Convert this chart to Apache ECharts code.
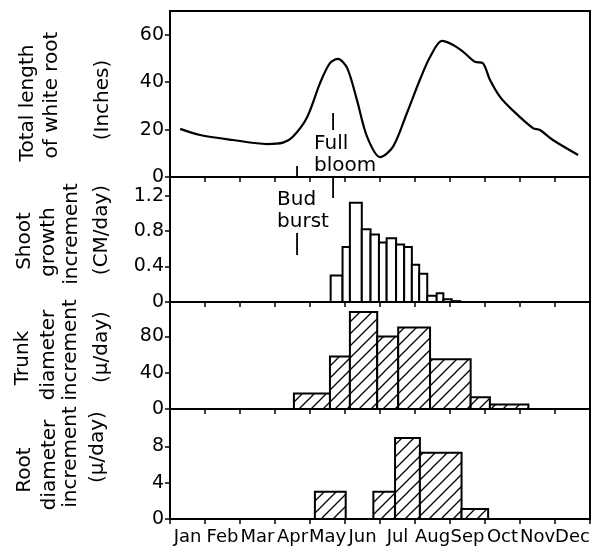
<!DOCTYPE html>
<html>
<head>
<meta charset="utf-8">
<script src="https://cdn.jsdelivr.net/npm/echarts@6/dist/echarts.min.js"></script>
<style>html,body{margin:0;padding:0;background:#fff;}#c{width:598px;height:551px;}</style>
</head>
<body>
<div id="c"></div>
<script>
// ---- data ----
const months = ['Jan','Feb','Mar','Apr','May','Jun','Jul','Aug','Sep','Oct','Nov','Dec'];

// Total length of white root (inches); x in months from Jan 1
const rootLenX = [0.29, 0.86, 1.8, 2.77, 3.23, 3.51, 3.91, 4.29, 4.57, 4.8, 5.06, 5.34, 5.63, 6.0, 6.37, 6.77, 7.14, 7.43, 7.77, 8.09, 8.37, 8.71, 8.94, 9.14, 9.43, 9.8, 10.37, 10.57, 10.94, 11.66];
const rootLenY = [20.3, 17.7, 15.6, 13.9, 14.5, 17, 25, 39.7, 48, 49.8, 46, 32.5, 17, 8.4, 12.7, 27, 41, 50.6, 57.4, 55.7, 52.9, 48.6, 48, 41, 33.8, 28, 20.6, 19.8, 15.6, 9.3];

// Shoot growth increment (cm/day), bins
const shootEdges = [4.59, 4.93, 5.14, 5.48, 5.73, 5.97, 6.19, 6.46, 6.69, 6.91, 7.12, 7.35, 7.62, 7.81, 8.05, 8.29];
const shootVals = [0.30, 0.62, 1.12, 0.82, 0.76, 0.67, 0.72, 0.65, 0.62, 0.42, 0.32, 0.07, 0.10, 0.03, 0.01];

// Trunk diameter increment (micro/day), bins
const trunkEdges = [3.54, 4.57, 5.14, 5.92, 6.52, 7.43, 8.59, 9.14, 10.24];
const trunkVals = [17, 58, 107, 80, 90, 55, 13, 5];

// Root diameter increment (micro/day), bins
const rootDStart = [4.14, 5.81, 6.43, 7.14, 8.33];
const rootDEnd   = [5.02, 6.43, 7.14, 8.33, 9.09];
const rootDVals  = [3.0, 3.0, 8.9, 7.3, 1.1];

// tick labels
const lenTicks = [0, 20, 40, 60];
const shootTicks = [0, 0.4, 0.8, 1.2];
const trunkTicks = [0, 40, 80];
const rootTicks = [0, 4, 8];

// event markers (months)
const fullBloom = 4.66;
const budBurst = 3.63;

// ---- chart ----
const FONT = '"DejaVu Sans", sans-serif';
const chart = echarts.init(document.getElementById('c'), null, {renderer: 'canvas'});

function hatch() {
  const s = 12, c = document.createElement('canvas');
  c.width = s; c.height = s;
  const g = c.getContext('2d');
  g.fillStyle = '#fff'; g.fillRect(0, 0, s, s);
  g.strokeStyle = '#000'; g.lineWidth = 1.3;
  g.beginPath();
  g.moveTo(-1, s + 1); g.lineTo(s + 1, -1);
  g.moveTo(-2, 2); g.lineTo(2, -2);
  g.moveTo(s - 2, s + 2); g.lineTo(s + 2, s - 2);
  g.stroke();
  return {image: c, repeat: 'repeat'};
}
const HATCH = hatch();

function binRender(fill) {
  return function (params, api) {
    const a = api.coord([api.value(0), api.value(2)]);
    const b = api.coord([api.value(1), 0]);
    return {
      type: 'rect',
      shape: {x: a[0], y: a[1], width: b[0] - a[0], height: b[1] - a[1]},
      style: {fill: fill, stroke: '#000', lineWidth: 2}
    };
  };
}

const grids = [
  {left: 170, top: 11, width: 420, height: 166},
  {left: 170, top: 177, width: 420, height: 125},
  {left: 170, top: 302, width: 420, height: 107},
  {left: 170, top: 409, width: 420, height: 110}
].map(g => Object.assign(g, {show: true, borderColor: '#000', borderWidth: 2, backgroundColor: 'transparent'}));

function xVal(i) {
  return {
    type: 'value', gridIndex: i, min: 0, max: 12, interval: 1, position: 'bottom',
    axisLine: {show: true, onZero: false, lineStyle: {color: '#000', width: 2}},
    axisTick: {show: true, length: 5, lineStyle: {color: '#000', width: 1.5}},
    axisLabel: {show: false}, splitLine: {show: false}
  };
}
function yVal(i, max, ticks) {
  return {
    type: 'value', gridIndex: i, min: 0, max: max,
    axisLine: {show: true, lineStyle: {color: '#000', width: 2}},
    axisTick: {show: true, length: 5, lineStyle: {color: '#000', width: 1.5}, customValues: ticks},
    axisLabel: {show: true, color: '#000', fontSize: 19, fontFamily: FONT, margin: 6, customValues: ticks},
    splitLine: {show: false}
  };
}

const option = {
  animation: false,
  backgroundColor: '#fff',
  grid: grids,
  xAxis: [xVal(0), xVal(1), xVal(2), xVal(3), {
    type: 'category', gridIndex: 3, data: months, position: 'bottom', boundaryGap: true,
    axisLine: {show: false}, axisTick: {show: false}, splitLine: {show: false},
    axisLabel: {interval: 0, color: '#000', fontSize: 18, fontFamily: FONT, margin: 9, hideOverlap: false}
  }],
  yAxis: [yVal(0, 70, lenTicks), yVal(1, 1.41, shootTicks), yVal(2, 118, trunkTicks), yVal(3, 12.1, rootTicks)],
  series: [
    {
      type: 'line', xAxisIndex: 0, yAxisIndex: 0, smooth: 0.3, showSymbol: false,
      lineStyle: {color: '#000', width: 2.2},
      data: rootLenX.map((x, i) => [x, rootLenY[i]])
    },
    {
      type: 'custom', xAxisIndex: 1, yAxisIndex: 1, renderItem: binRender('#fff'),
      encode: {x: [0, 1], y: 2},
      data: shootVals.map((v, i) => [shootEdges[i], shootEdges[i + 1], v])
    },
    {
      type: 'custom', xAxisIndex: 2, yAxisIndex: 2, renderItem: binRender(HATCH),
      encode: {x: [0, 1], y: 2},
      data: trunkVals.map((v, i) => [trunkEdges[i], trunkEdges[i + 1], v])
    },
    {
      type: 'custom', xAxisIndex: 3, yAxisIndex: 3, renderItem: binRender(HATCH),
      encode: {x: [0, 1], y: 2},
      data: rootDVals.map((v, i) => [rootDStart[i], rootDEnd[i], v])
    }
  ]
};
chart.setOption(option);

// ---- titles & annotations ----
function vtext(text, x, y, size) {
  return {
    type: 'text', x: x, y: y, rotation: Math.PI / 2, silent: true,
    style: {text: text, fill: '#000', font: (size || 20) + 'px ' + FONT,
      textAlign: 'center', textVerticalAlign: 'middle', align: 'center', verticalAlign: 'middle'}
  };
}
function htext(text, x, y) {
  return {
    type: 'text', x: x, y: y, silent: true,
    style: {text: text, fill: '#000', font: '20px ' + FONT, lineHeight: 22,
      textAlign: 'left', textVerticalAlign: 'top', align: 'left', verticalAlign: 'top'}
  };
}
function vline(x, y1, y2) {
  return {type: 'line', silent: true, shape: {x1: x, y1: y1, x2: x, y2: y2}, style: {stroke: '#000', lineWidth: 1.8}};
}
const fbX = chart.convertToPixel({xAxisIndex: 0}, fullBloom);
const bbX = chart.convertToPixel({xAxisIndex: 0}, budBurst);
const g = [
  vtext('Total length', 28, 103), vtext('of white root', 52, 95), vtext('(Inches)', 103, 100),
  vtext('Shoot', 25, 241), vtext('growth', 49, 242), vtext('increment', 72, 234), vtext('(CM/day)', 102, 230),
  vtext('Trunk', 23, 358), vtext('diameter', 49, 355), vtext('increment', 71, 350), vtext('(\u03BC/day)', 102, 347),
  vtext('Root', 25, 470), vtext('diameter', 50, 465), vtext('increment', 71, 457), vtext('(\u03BC/day)', 98, 447),
  htext('Full\nbloom', fbX - 19, 133),
  vline(fbX, 113, 130), vline(fbX, 177, 198),
  htext('Bud\nburst', bbX - 20, 189),
  vline(bbX, 166, 177), vline(bbX, 233, 255)
];
chart.setOption({graphic: {elements: g}});
</script>
</body>
</html>
